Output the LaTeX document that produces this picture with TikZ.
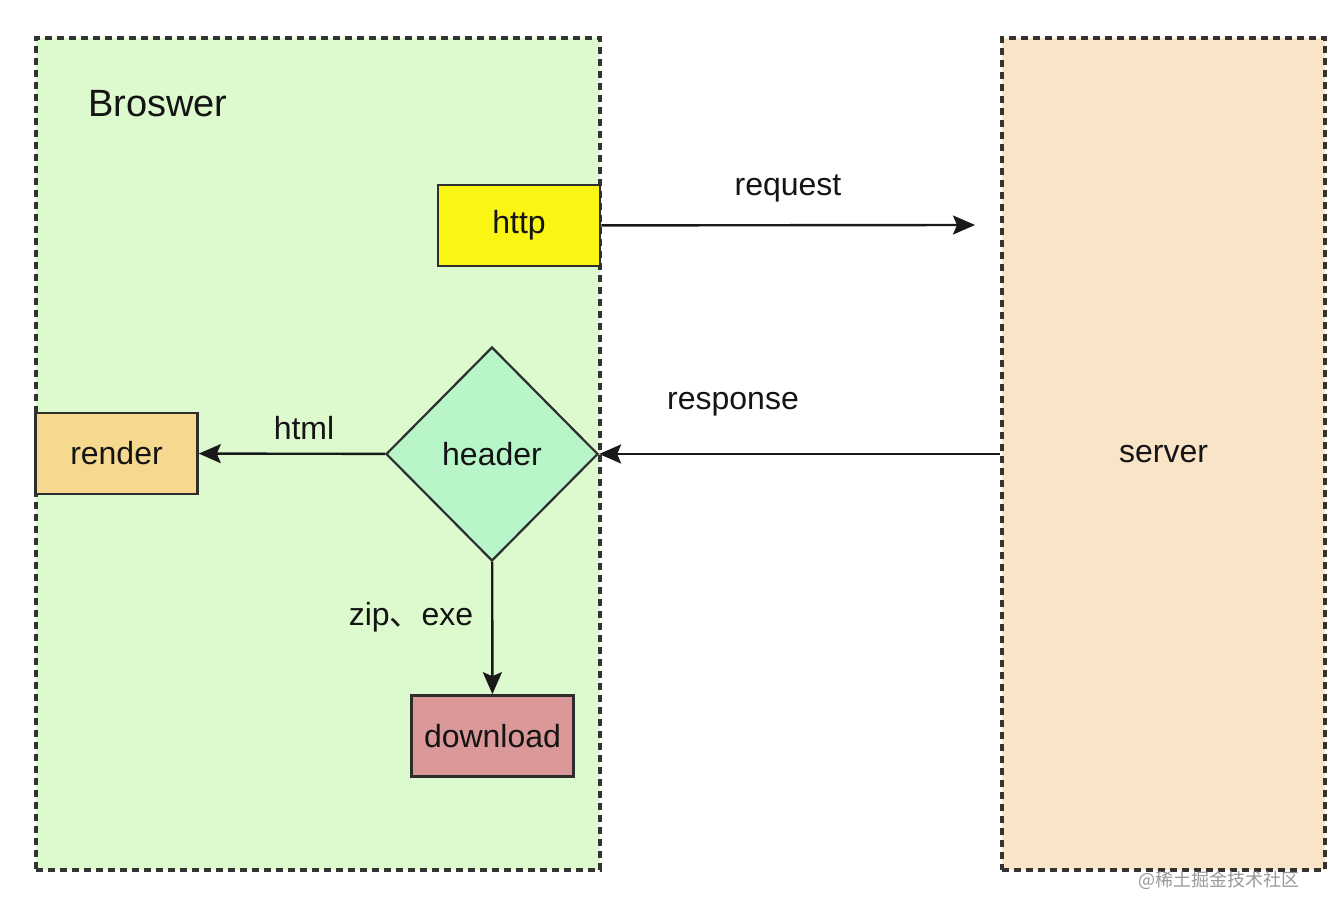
\documentclass[tikz,border=0pt]{standalone}
\usepackage{fontspec}
\setmainfont{Liberation Sans}
\newfontfamily\cjkfont{Noto Sans CJK SC}
\usepackage{xcolor}
\usetikzlibrary{shapes.geometric,arrows.meta,positioning}
\definecolor{browsergreen}{RGB}{221,250,206}
\definecolor{serverpeach}{RGB}{249,228,199}
\definecolor{httpyellow}{RGB}{250,245,20}
\definecolor{renderorange}{RGB}{246,217,142}
\definecolor{headermint}{RGB}{184,246,202}
\definecolor{downloadred}{RGB}{218,152,152}

\begin{document}
\begin{tikzpicture}
  [x=0.5pt,y=-0.5pt,
   every node/.style={font=\fontsize{16}{19}\selectfont,text=black!92},
   area/.style={draw=black!80,line width=1.6pt,dash pattern=on 3.5pt off 2.5pt,inner sep=0pt},
   box/.style={draw=black!82,line width=1.3pt,minimum width=81pt,minimum height=40.5pt,inner sep=0pt},
   choice/.style={diamond,draw=black!82,line width=1.1pt,minimum width=106pt,minimum height=107pt,inner sep=0pt},
   link/.style={-{Stealth[length=11pt,width=9.5pt,inset=2pt]},line width=1.2pt,draw=black!90}]
  \fill[white] (0,0) rectangle (1328,914);
  \useasboundingbox (0,0) rectangle (1328,914);
  \node[area,fill=browsergreen,minimum width=282pt,minimum height=416pt] (browser) at (318,454) {};
  \node[area,fill=serverpeach,minimum width=161.5pt,minimum height=416pt] (server) at (1163.5,454) {server};
  \node[font=\fontsize{19}{22}\selectfont,anchor=west] (title) at (81,104) {Broswer};
  \node[box,fill=httpyellow] (http) at (519,225.5) {http};
  \node[choice,fill=headermint] (header) at (492,454) {header};
  \node[box,fill=renderorange] (render) at (116.5,453.5) {render};
  \node[box,fill=downloadred] (download) at (492.5,736) {download};
  \coordinate (sink) at (975,225);

  \node (request) at (788,188) {request};
  \node (response) at (733,404) {response};
  \node (html) at (304,428) {html};
  \node (types) at (411,617) {zip{\cjkfont 、}exe};
  \node[font=\cjkfont\fontsize{9}{11}\selectfont,text=black!40,anchor=east] (mark) at (1307,880) {@稀土掘金技术社区};

  \draw[link] (http) -- (sink);
  \foreach \from/\to in {server/header,header/render,header/download}
    \draw[link] (\from) -- (\to);
\end{tikzpicture}
\end{document}
